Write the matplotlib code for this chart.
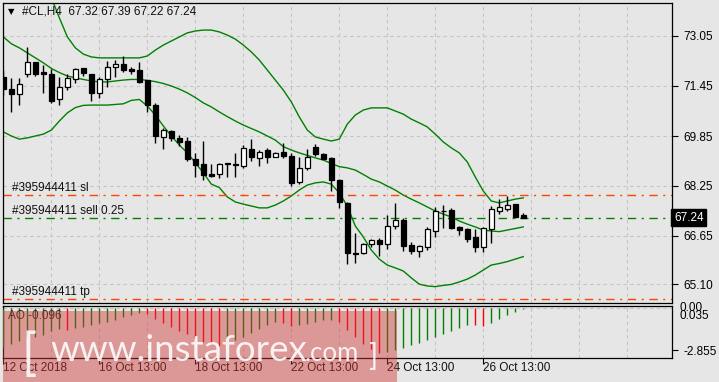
import matplotlib
matplotlib.use('Agg')
import matplotlib.pyplot as plt
import numpy as np
from matplotlib.patches import Rectangle

plt.rcParams['font.family'] = ['Liberation Sans', 'DejaVu Sans']

# ---------------- data ----------------
opens = [71.75, 71.35, 71.18, 71.82, 72.21, 71.91, 71.83, 71.02, 71.41, 71.66,
         72.02, 71.83, 71.22, 71.66, 72.05, 72.15, 72.00, 71.96, 71.64, 70.84,
         69.83, 70.02, 69.80, 69.69, 69.11, 68.95, 68.63, 68.62, 68.97, 68.97,
         68.90, 69.42, 69.14, 69.40, 69.19, 69.33, 69.21, 68.37, 68.82, 69.49,
         69.27, 69.16, 68.44, 67.72, 66.09, 66.10, 66.38, 66.52, 66.38, 66.98,
         67.16, 66.36, 66.18, 66.29, 66.82, 67.46, 67.48, 66.94, 66.86, 66.61,
         66.31, 66.86, 67.46, 67.50, 67.67, 67.32]
highs = [71.95, 71.71, 71.71, 72.69, 72.23, 72.12, 71.99, 71.73, 71.83, 72.02,
         72.04, 71.85, 71.75, 72.26, 72.28, 72.42, 72.05, 72.21, 71.64, 70.92,
         70.10, 70.04, 69.88, 69.83, 69.30, 69.70, 68.95, 69.00, 68.98, 69.32,
         69.56, 69.74, 69.40, 69.46, 69.33, 69.62, 69.30, 69.17, 69.43, 69.59,
         69.30, 69.17, 68.46, 67.75, 66.74, 66.43, 66.54, 66.58, 67.32, 67.72,
         67.22, 66.45, 66.36, 66.95, 67.59, 67.64, 67.53, 66.98, 66.90, 66.86,
         66.95, 67.61, 67.82, 67.94, 67.69, 67.39]
lows = [71.15, 70.62, 70.84, 71.75, 71.78, 71.24, 70.92, 70.84, 71.32, 71.56,
        71.77, 70.97, 71.06, 71.43, 71.73, 71.91, 71.82, 71.56, 70.63, 69.62,
        69.42, 69.70, 69.53, 69.06, 68.53, 68.44, 68.53, 68.50, 68.53, 68.53,
        68.82, 69.06, 68.90, 68.98, 69.17, 69.14, 68.26, 68.31, 68.75, 69.21,
        69.10, 68.10, 67.54, 65.74, 65.78, 66.07, 66.29, 66.02, 66.22, 66.87,
        66.18, 66.07, 65.99, 66.21, 66.63, 66.90, 66.87, 66.68, 66.47, 66.15,
        66.15, 66.43, 67.35, 67.46, 67.22, 67.22]
closes = [71.35, 71.18, 71.50, 72.21, 71.83, 71.82, 70.97, 71.41, 71.70, 71.98,
          71.86, 71.22, 71.66, 72.05, 72.15, 71.96, 71.94, 71.59, 70.84, 69.86,
          70.04, 69.80, 69.67, 69.10, 68.92, 68.60, 68.58, 68.95, 68.96, 68.93,
          69.46, 69.17, 69.33, 69.19, 69.30, 69.22, 68.34, 68.82, 69.19, 69.27,
          69.13, 68.44, 67.73, 66.10, 66.07, 66.38, 66.52, 66.38, 66.98, 67.16,
          66.34, 66.17, 66.33, 66.86, 67.45, 67.44, 66.92, 66.84, 66.54, 66.31,
          66.90, 67.50, 67.57, 67.63, 67.27, 67.24]

bb_upper = [76.44, 76.19, 75.87, 75.48, 75.10, 74.68, 74.27, 73.63, 73.02, 72.67,
            72.47, 72.38, 72.35, 72.35, 72.35, 72.35, 72.35, 72.35, 72.41, 72.60,
            72.76, 72.89, 73.02, 73.15, 73.21, 73.24, 73.24, 73.18, 73.08, 72.95,
            72.76, 72.54, 72.28, 71.96, 71.64, 71.32, 70.94, 70.46, 70.04, 69.82,
            69.75, 69.69, 69.75, 70.23, 70.52, 70.68, 70.75, 70.75, 70.75, 70.65,
            70.55, 70.39, 70.27, 70.14, 69.91, 69.66, 69.47, 69.31, 69.02, 68.54,
            68.09, 67.77, 67.71, 67.77, 67.83, 67.87]
bb_middle = [73.02, 72.80, 72.67, 72.51, 72.35, 72.19, 72.01, 71.88, 71.77, 71.71,
             71.66, 71.61, 71.58, 71.58, 71.61, 71.64, 71.66, 71.66, 71.63, 71.59,
             71.53, 71.45, 71.35, 71.23, 71.08, 70.91, 70.78, 70.62, 70.47, 70.33,
             70.20, 70.09, 69.98, 69.85, 69.72, 69.51, 69.40, 69.31, 69.23, 69.15,
             69.08, 68.97, 68.87, 68.83, 68.76, 68.62, 68.47, 68.38, 68.25, 68.12,
             67.96, 67.83, 67.71, 67.58, 67.45, 67.35, 67.26, 67.13, 67.03, 66.94,
             66.84, 66.81, 66.79, 66.84, 66.89, 66.94]
bb_lower = [69.98, 69.85, 69.75, 69.79, 69.85, 69.91, 70.04, 70.33, 70.59, 70.76,
            70.83, 70.84, 70.84, 70.84, 70.86, 70.88, 70.99, 71.02, 70.81, 70.52,
            70.17, 69.85, 69.56, 69.31, 68.99, 68.67, 68.31, 68.20, 67.90, 67.74,
            67.67, 67.61, 67.55, 67.55, 67.64, 67.77, 67.93, 68.12, 68.28, 68.35,
            68.38, 68.31, 68.03, 67.61, 66.97, 66.62, 66.20, 65.91, 65.72, 65.63,
            65.53, 65.31, 65.11, 65.05, 65.03, 65.07, 65.10, 65.18, 65.27, 65.40,
            65.56, 65.72, 65.77, 65.83, 65.91, 65.99]

ao_values = [-2.65, -2.45, -2.25, -2.00, -1.95, -1.85, -1.60, -1.45, -1.50, -1.40,
             -1.30, -1.20, -1.05, -0.95, -0.80, -0.65, -0.50, -0.35, -0.45, -0.75,
             -1.05, -1.30, -1.55, -1.80, -2.05, -2.30, -2.45, -2.55, -2.45, -2.20,
             -1.95, -1.70, -1.45, -1.20, -1.00, -1.05, -1.25, -1.20, -1.10, -0.95,
             -0.85, -0.80, -0.95, -1.50, -2.00, -2.45, -2.80, -3.05, -3.00, -2.85,
             -2.70, -2.50, -2.35, -2.15, -1.95, -1.75, -1.55, -1.35, -1.15, -1.20,
             -1.25, -1.05, -0.75, -0.50, -0.30, -0.096]

xtick_bars = [0, 12, 24, 36, 48, 60]
xtick_labels = ['12 Oct 2018', '16 Oct 13:00', '18 Oct 13:00', '22 Oct 13:00',
                '24 Oct 13:00', '26 Oct 13:00']
price_ticks = [73.05, 71.45, 69.85, 68.25, 66.65, 65.10]
sl_level = 67.96
sell_level = 67.24
tp_level = 64.63
title_text = '#CL,H4  67.32 67.39 67.22 67.24'

# ---------------- figure ----------------
W, H = 719, 382
BG = '#e6e6e6'
fig = plt.figure(figsize=(W / 100, H / 100), dpi=100, facecolor=BG)

def fx(px):
    return px / W

def fy(py):
    return 1 - py / H

ax = fig.add_axes([fx(3), fy(303), fx(672) - fx(3), fy(3) - fy(303)], facecolor=BG)
ax2 = fig.add_axes([fx(3), fy(358), fx(672) - fx(3), fy(306) - fy(358)], facecolor=BG)

n = len(closes)
x = np.arange(n)
XMAX = 83.6
grid_kw = dict(color='#c4c4c4', lw=0.8, ls=(0, (3, 3)), zorder=0)
PPX = (74.106 - 64.506) / 300.0  # price per pixel

# main chart
ax.set_xlim(-0.05, XMAX)
ax.set_ylim(64.506, 74.106)
for k in range(0, 84, 6):
    ax.axvline(k, **grid_kw)
    ax2.axvline(k, **grid_kw)
for p in price_ticks:
    ax.axhline(p, **grid_kw)

ax.plot(x, bb_upper, color='#008000', lw=1.0, zorder=2)
ax.plot(x, bb_middle, color='#008000', lw=1.0, zorder=2)
ax.plot(x, bb_lower, color='#008000', lw=1.0, zorder=2)

o = np.array(opens); c = np.array(closes)
ax.vlines(x, lows, highs, color='black', lw=1.0, zorder=3)
bottoms = np.minimum(o, c)
heights = np.maximum(np.abs(c - o), 0.012)
faces = ['white' if cc > oo else 'black' for oo, cc in zip(o, c)]
ax.bar(x, heights, bottom=bottoms, width=0.62, color=faces, edgecolor='black',
       linewidth=0.9, zorder=4)

# order lines
dashdot = (0, (6, 4, 1.5, 4))
ax.axhline(sl_level, color='#ff4500', lw=1.0, ls=dashdot, zorder=2)
ax.axhline(sell_level, color='#008000', lw=1.0, ls=dashdot, zorder=2)
ax.axhline(tp_level, color='#ff4500', lw=1.0, ls=dashdot, zorder=2)
for lvl, lab in [(sl_level, '#395944411 sl'), (sell_level, '#395944411 sell 0.25'),
                 (tp_level, '#395944411 tp')]:
    ax.text(1.1, lvl + 7.0 * PPX, lab, fontsize=8.5, color='#111111',
            va='center', ha='left', zorder=5)

ax.yaxis.tick_right()
ax.set_yticks(price_ticks)
ax.set_yticklabels(['%.2f' % p for p in price_ticks])
ax.tick_params(axis='y', direction='out', length=4, width=0.8, pad=4,
               labelsize=8.5, colors='black')
ax.set_xticks([])
for s in ax.spines.values():
    s.set_color('black'); s.set_linewidth(0.9)

# current price box
ax.text(1.003, sell_level, '67.24', transform=ax.get_yaxis_transform(),
        fontsize=8.5, color='white', va='center', ha='left',
        bbox=dict(boxstyle='square,pad=0.22', fc='black', ec='black'), zorder=6,
        clip_on=False)

# title
fig.text(fx(8), fy(12), '\u25BC', fontsize=6, color='black', va='center',
         ha='left', family=['DejaVu Sans'])
fig.text(fx(22), fy(12), title_text, fontsize=8.5, color='#111111',
         va='center', ha='left')

# AO panel
ax2.set_xlim(-0.05, XMAX)
ax2.set_ylim(-3.39, 0.11)
ao = np.array(ao_values)
ao_colors = ['#008000'] + ['#008000' if ao[i] > ao[i - 1] else '#ff0000'
                           for i in range(1, n)]
ax2.vlines(x, 0, ao, colors=ao_colors, lw=1.0, zorder=3)
ax2.axhline(-0.03, **grid_kw)
ax2.yaxis.tick_right()
ax2.set_yticks([-2.855])
ax2.set_yticklabels(['-2.855'])
ax2.tick_params(axis='y', direction='out', length=4, width=0.8, pad=4,
                labelsize=8.5, colors='black')
ax2.text(1.0 + 8 / 669, 0.96, '0.00', transform=ax2.transAxes, fontsize=8.5,
         va='center', ha='left', clip_on=False)
ax2.text(1.0 + 8 / 669, 0.80, '0.035', transform=ax2.transAxes, fontsize=8.5,
         va='center', ha='left', clip_on=False)
ax2.text(0.008, 0.80, 'AO -0.096', transform=ax2.transAxes, fontsize=8.5,
         color='#222222', va='center', ha='left', zorder=5)
ax2.set_xticks(xtick_bars)
ax2.set_xticklabels([])
ax2.tick_params(axis='x', direction='out', length=4, width=0.8)
for k, lab in zip(xtick_bars, xtick_labels):
    ax2.text(k, -0.2, lab, transform=ax2.get_xaxis_transform(), fontsize=8.5,
             color='#111111', ha='left', va='center', clip_on=False)
for s in ax2.spines.values():
    s.set_color('black'); s.set_linewidth(0.9)

# watermark
fig.patches.append(Rectangle((fx(3), 0), fx(397) - fx(3), fy(311), transform=fig.transFigure,
                             facecolor=(0.82, 0.22, 0.22), alpha=0.45, edgecolor='none',
                             zorder=20))
wm = dict(color='white', alpha=0.88, va='baseline', ha='left', zorder=21,
          family=['Lato', 'Liberation Sans'], fontweight='normal')
fig.text(fx(22), fy(370), '[', fontsize=36, **wm)
fig.text(fx(50), fy(361), 'www.instaforex', fontsize=26.5, **wm)
fig.text(fx(305), fy(361), '.com', fontsize=18.5, **wm)
fig.text(fx(368), fy(366), ']', fontsize=22, **wm)

fig.savefig('out.png', dpi=100, facecolor=BG)
